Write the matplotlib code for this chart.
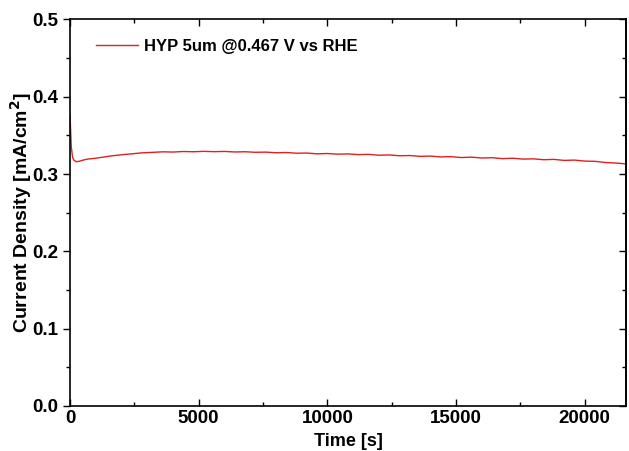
import matplotlib
matplotlib.use("Agg")
import matplotlib.pyplot as plt
from matplotlib.ticker import MultipleLocator

time_s = [0, 20, 50, 100, 150, 250, 350, 500, 700, 1000, 1300, 1600,
          2000, 2400, 2800, 3200, 3600, 4000, 4400, 4800, 5200, 5600, 6000,
          6400, 6800, 7200, 7600, 8000, 8400, 8800, 9200, 9600, 10000,
          10400, 10800, 11200, 11600, 12000, 12400, 12800, 13200, 13600,
          14000, 14400, 14800, 15200, 15600, 16000, 16400, 16800, 17200,
          17600, 18000, 18400, 18800, 19200, 19600, 20000, 20400, 20800,
          21200, 21600]
current = [0.376, 0.360, 0.335, 0.322, 0.318, 0.316, 0.3165, 0.318, 0.3195,
           0.3205, 0.322, 0.3235,
           0.3250, 0.3262, 0.3275, 0.3281, 0.3288, 0.3285, 0.3292, 0.3289,
           0.3294, 0.3290, 0.3293, 0.3286, 0.3289, 0.3282, 0.3284, 0.3276,
           0.3279, 0.3270, 0.3272, 0.3262, 0.3266, 0.3258, 0.3261, 0.3252,
           0.3255, 0.3244, 0.3248, 0.3237, 0.3240, 0.3229, 0.3233, 0.3222,
           0.3226, 0.3214, 0.3219, 0.3208, 0.3212, 0.3200, 0.3205, 0.3194,
           0.3197, 0.3186, 0.3190, 0.3177, 0.3181, 0.3168, 0.3165, 0.3150,
           0.3143, 0.3132]
label = "HYP 5um @0.467 V vs RHE"

plt.rcParams['font.family'] = ['Liberation Sans', 'DejaVu Sans']
plt.rcParams['font.weight'] = 'bold'

fig = plt.figure(figsize=(6.29, 4.51), dpi=100)
ax = fig.add_axes([0.1113, 0.0998, 0.8839, 0.8570])
ax.plot(time_s, current, color='#e0201f', lw=1.0, label=label)

ax.set_xlim(0, 21600)
ax.set_ylim(0, 0.5)
ax.xaxis.set_major_locator(MultipleLocator(5000))
ax.xaxis.set_minor_locator(MultipleLocator(2500))
ax.yaxis.set_major_locator(MultipleLocator(0.1))
ax.yaxis.set_minor_locator(MultipleLocator(0.05))
ax.yaxis.set_major_formatter(plt.FuncFormatter(lambda v, p: f"{v:.1f}"))

for s in ax.spines.values():
    s.set_linewidth(1.2)

ax.tick_params(axis='x', which='both', direction='in', top=True, labelsize=13.5, pad=3)
ax.tick_params(axis='y', which='both', direction='out', right=False, labelsize=13.5)
ax.tick_params(which='major', length=5, width=1.0)
ax.tick_params(which='minor', length=3, width=1.0)

sec = ax.secondary_yaxis('right')
sec.yaxis.set_major_locator(MultipleLocator(0.1))
sec.yaxis.set_minor_locator(MultipleLocator(0.05))
sec.tick_params(which='both', direction='in', labelright=False)
sec.tick_params(which='major', length=5, width=1.0)
sec.tick_params(which='minor', length=3, width=1.0)
sec.spines['right'].set_linewidth(1.2)

ax.set_xlabel("Time [s]", fontsize=13, fontweight='bold', labelpad=4)
ax.set_ylabel("Current Density [mA/cm$^\\mathbf{2}$]", fontsize=14, fontweight='bold', labelpad=-1)

leg = ax.legend(loc='upper left', frameon=False, fontsize=12, handlelength=2.5,
                bbox_to_anchor=(0.02, 0.988), handletextpad=0.4)

fig.savefig("out.png", dpi=100)
